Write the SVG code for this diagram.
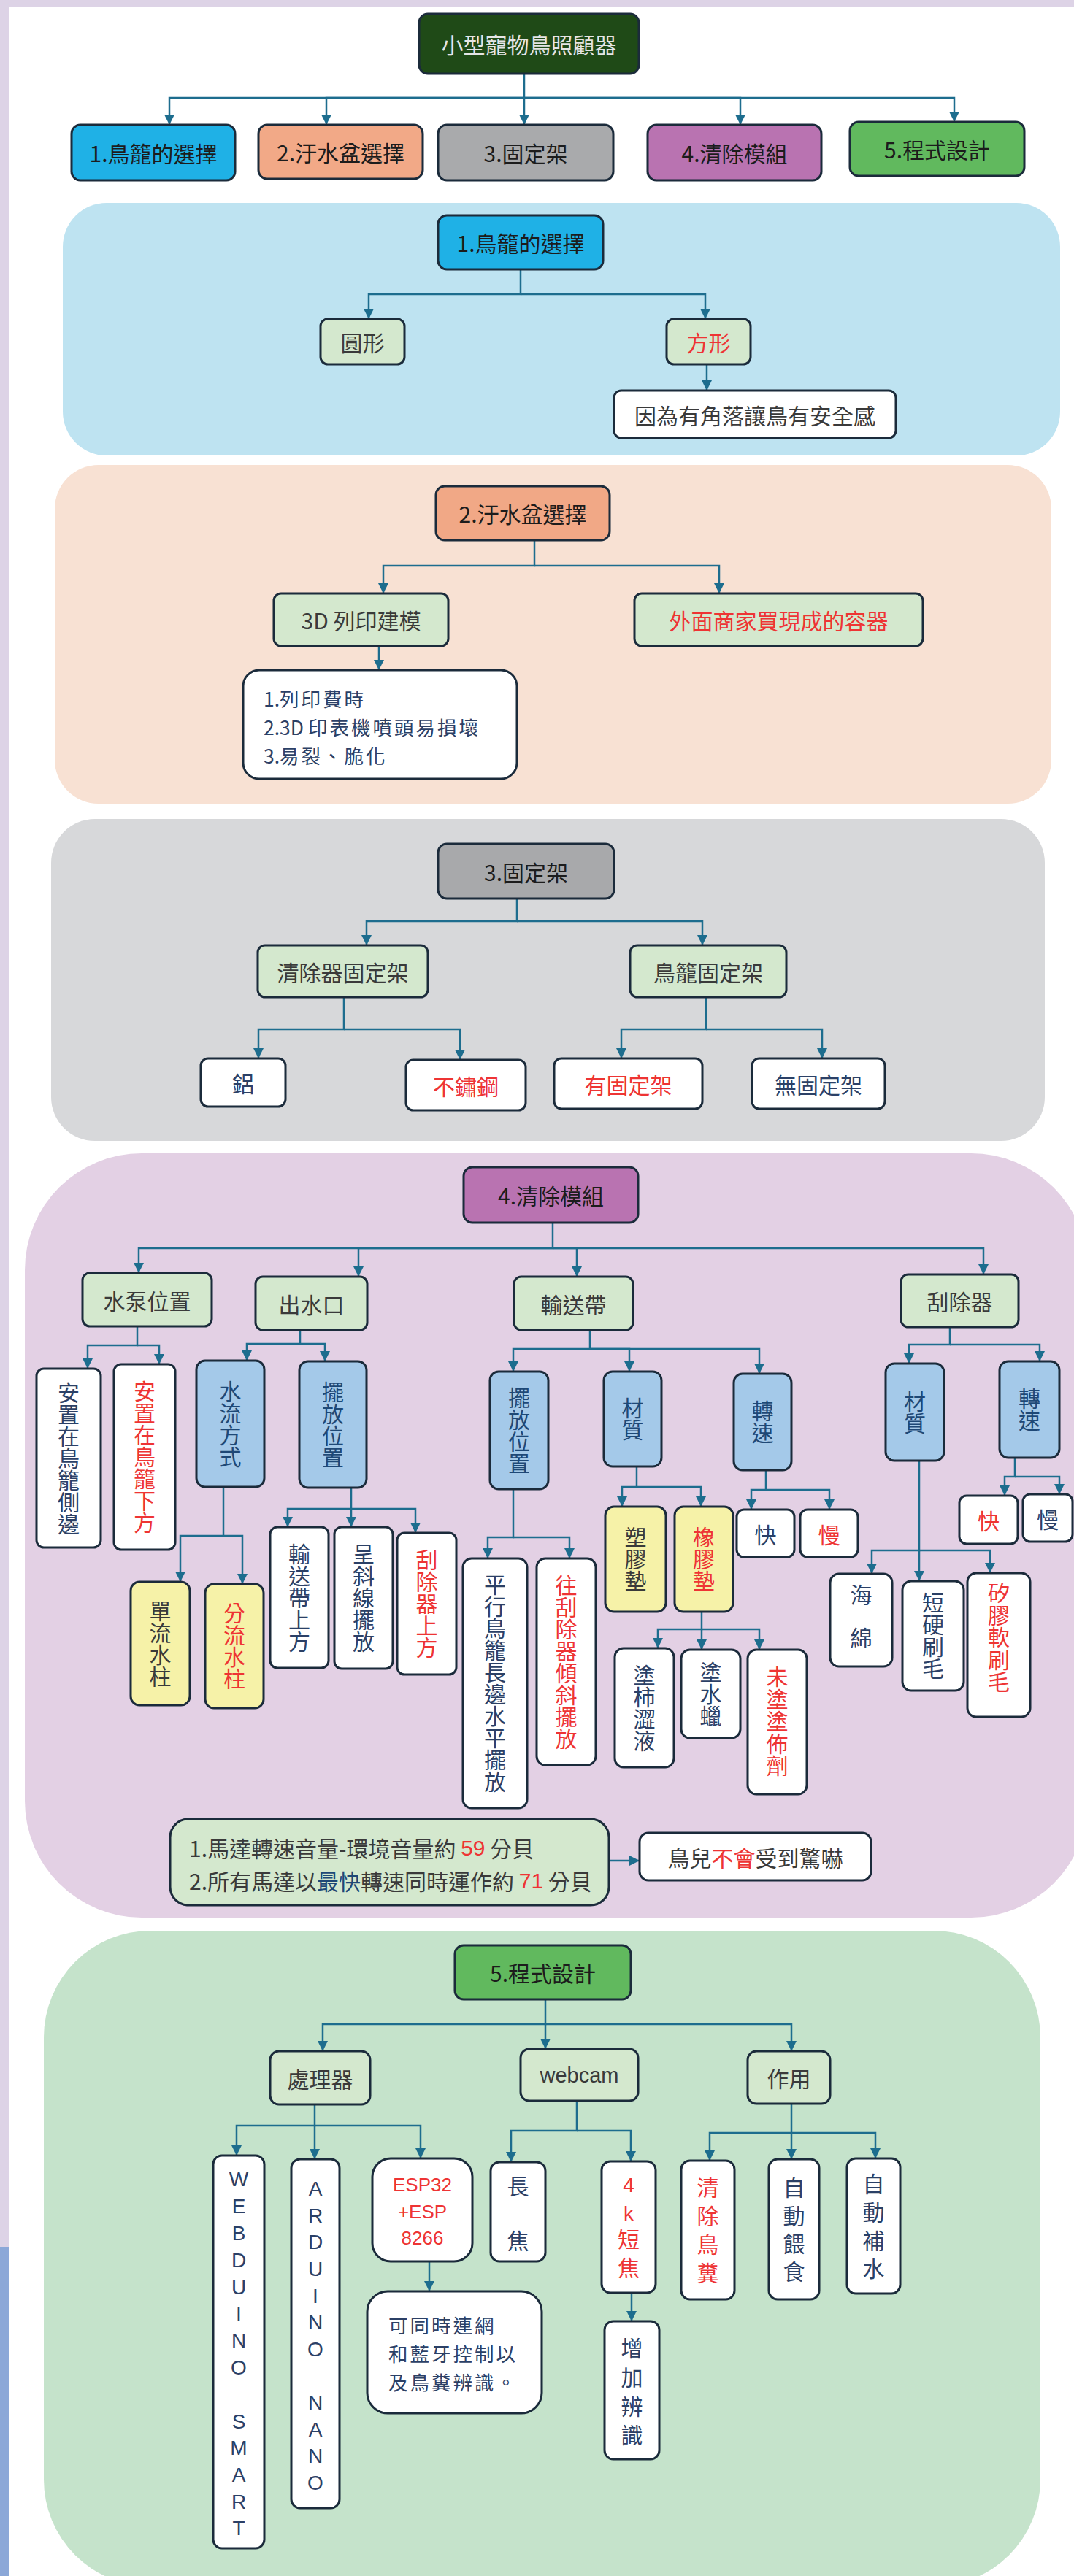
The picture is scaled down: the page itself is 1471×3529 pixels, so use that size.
<svg xmlns="http://www.w3.org/2000/svg" width="1471" height="3529" viewBox="0 0 1471 3529">
<style>
.n{stroke:#1B2B3B;stroke-width:3}
.g{fill:#D4E8CE}.w{fill:#FFFFFF}.b{fill:#A4C9E9}.y{fill:#F6F2A8}
text{font-family:"Noto Sans CJK TC","Noto Sans CJK SC",sans-serif;font-size:30px;dominant-baseline:central}
.c{text-anchor:middle}
.v{writing-mode:vertical-rl;text-anchor:start}
.k{fill:#3A3A3A}.h{fill:#1C1C1C}.r{fill:#EE3434}.d{fill:#2B4066}.bl{fill:#1E4876}
.lat{font-family:"Liberation Sans",Arial,sans-serif}
.ml{font-size:26.5px;letter-spacing:3px}
.ns{letter-spacing:0}
.e{stroke:#1D6D8E;stroke-width:2.5;fill:none;marker-end:url(#ah)}
</style>
<defs>
<marker id="ah" markerUnits="userSpaceOnUse" markerWidth="14" markerHeight="14" viewBox="0 0 14 14" refX="14" refY="7" orient="auto"><path d="M0,0L14,7L0,14z" fill="#1D6D8E"/></marker>
</defs>
<g id="background">
<rect x="0" y="0" width="1471" height="3529" fill="#FFFFFF"/>
<rect x="0" y="0" width="1471" height="10" fill="#DDD3E6"/>
<rect x="0" y="0" width="13" height="3078" fill="#DDD3E6"/>
<rect x="0" y="3078" width="13" height="451" fill="#8CA8D8"/>
<rect x="86" y="278" width="1366" height="346" rx="60" fill="#BEE3F1"/>
<rect x="75" y="637" width="1365" height="464" rx="60" fill="#F8E1D3"/>
<rect x="70" y="1122" width="1361" height="441" rx="60" fill="#D7D8DA"/>
<rect x="34" y="1580" width="1456" height="1047" rx="160" fill="#E3D0E4"/>
<rect x="60" y="2645" width="1365" height="898" rx="146" fill="#C5E3CB"/>
</g>
<g id="connectors">
<path class="e" d="M718,101V134H232V171"/><path class="e" d="M718,134H447V171"/><path class="e" d="M718,134V171"/><path class="e" d="M718,134H1014V171"/><path class="e" d="M718,134H1307V167"/>
<path class="e" d="M713,369V403H505V437"/><path class="e" d="M713,403H966V437"/><path class="e" d="M968,499V535"/>
<path class="e" d="M732,740V775H525V813"/><path class="e" d="M732,775H985V813"/><path class="e" d="M519,885V918"/>
<path class="e" d="M708,1231V1262H502V1295"/><path class="e" d="M708,1262H962V1295"/>
<path class="e" d="M471,1366V1410H354V1450"/><path class="e" d="M471,1410H630V1452"/>
<path class="e" d="M967,1366V1410H851V1450"/><path class="e" d="M967,1410H1126V1450"/>
<path class="e" d="M757,1675V1710H190V1744"/><path class="e" d="M757,1710H491V1749"/><path class="e" d="M757,1710H790V1749"/><path class="e" d="M757,1710H1347V1746"/>
<path class="e" d="M188,1817V1843H120V1875"/><path class="e" d="M188,1843H218V1869"/>
<path class="e" d="M411,1822V1841H338V1864"/><path class="e" d="M411,1841H445V1865"/>
<path class="e" d="M306,2037V2104H247V2167"/><path class="e" d="M306,2104H332V2170"/>
<path class="e" d="M481,2038V2067H394V2092"/><path class="e" d="M481,2067V2092"/><path class="e" d="M481,2067H569V2100"/>
<path class="e" d="M808,1822V1848H703V1879"/><path class="e" d="M808,1848H862V1879"/><path class="e" d="M808,1848H1040V1882"/>
<path class="e" d="M703,2040V2106H668V2135"/><path class="e" d="M703,2106H780V2135"/>
<path class="e" d="M872,2009V2037H852V2064"/><path class="e" d="M872,2037H960V2064"/>
<path class="e" d="M1049,2014V2041H1029V2068"/><path class="e" d="M1049,2041H1136V2068"/>
<path class="e" d="M961,2208V2232H901V2258"/><path class="e" d="M961,2232V2260"/><path class="e" d="M961,2232H1040V2260"/>
<path class="e" d="M1301,1818V1842H1245V1868"/><path class="e" d="M1301,1842H1424V1865"/>
<path class="e" d="M1390,1997V2023H1376V2049"/><path class="e" d="M1390,2023H1451V2047"/>
<path class="e" d="M1259,2001V2124H1194V2156"/><path class="e" d="M1259,2124V2166"/><path class="e" d="M1259,2124H1356V2155"/>
<path class="e" d="M834,2549H876"/>
<path class="e" d="M747,2739V2773H442V2810"/><path class="e" d="M747,2773V2807"/><path class="e" d="M747,2773H1084V2810"/>
<path class="e" d="M431,2883V2912H324V2953"/><path class="e" d="M431,2912V2958"/><path class="e" d="M431,2912H576V2957"/>
<path class="e" d="M588,3098V3139"/>
<path class="e" d="M790,2878V2919H700V2962"/><path class="e" d="M790,2919H864V2961"/>
<path class="e" d="M865,3141V3180"/>
<path class="e" d="M1084,2882V2922H972V2960"/><path class="e" d="M1084,2922V2958"/><path class="e" d="M1084,2922H1199V2957"/>
</g>
<g id="root"><rect class="n" x="574" y="19" width="301" height="82" rx="12" fill="#1F4A17"/><text class="c" x="724.5" y="60" fill="#E5E5E5">小型寵物鳥照顧器</text></g>
<g id="top1"><rect class="n" x="98" y="171" width="224" height="76" rx="12" fill="#1FB1E6"/><text class="c h" x="210" y="209">1.鳥籠的選擇</text></g>
<g id="top2"><rect class="n" x="354" y="171" width="225" height="74" rx="12" fill="#F2A987"/><text class="c h" x="466.5" y="208">2.汙水盆選擇</text></g>
<g id="top3"><rect class="n" x="600" y="171" width="240" height="76" rx="12" fill="#A9AAAC"/><text class="c h" x="720" y="209">3.固定架</text></g>
<g id="top4"><rect class="n" x="887" y="171" width="238" height="76" rx="12" fill="#B973B1"/><text class="c h" x="1006" y="209">4.清除模組</text></g>
<g id="top5"><rect class="n" x="1164" y="167" width="239" height="74" rx="12" fill="#61B95E"/><text class="c h" x="1283.5" y="204">5.程式設計</text></g>

<g id="s1root"><rect class="n" x="600" y="295" width="226" height="74" rx="12" fill="#1FB1E6"/><text class="c h" x="713" y="332">1.鳥籠的選擇</text></g>
<g id="s1round"><rect class="n g" x="439" y="437" width="115" height="62" rx="10"/><text class="c k" x="496.5" y="468">圓形</text></g>
<g id="s1square"><rect class="n g" x="913" y="437" width="115" height="62" rx="10"/><text class="c r" x="970.5" y="468">方形</text></g>
<g id="s1reason"><rect class="n w" x="841" y="535" width="386" height="65" rx="10"/><text class="c k" x="1034" y="567.5">因為有角落讓鳥有安全感</text></g>

<g id="s2root"><rect class="n" x="597" y="666" width="238" height="74" rx="12" fill="#F1A886"/><text class="c h" x="716" y="703">2.汙水盆選擇</text></g>
<g id="s2print"><rect class="n g" x="375" y="813" width="239" height="72" rx="10"/><text class="c k" x="494.5" y="849">3D 列印建模</text></g>
<g id="s2buy"><rect class="n g" x="869" y="813" width="395" height="72" rx="10"/><text class="c r" x="1066.5" y="849">外面商家買現成的容器</text></g>
<g id="s2list"><rect class="n w" x="333" y="918" width="375" height="149" rx="22"/><text class="d ml"><tspan x="361" y="956"><tspan class="ns">1.</tspan>列印費時</tspan><tspan x="361" y="995"><tspan class="ns">2.3D </tspan>印表機噴頭易損壞</tspan><tspan x="361" y="1034"><tspan class="ns">3.</tspan>易裂、脆化</tspan></text></g>

<g id="s3root"><rect class="n" x="600" y="1156" width="241" height="75" rx="12" fill="#A8A9AB"/><text class="c h" x="720.5" y="1193.5">3.固定架</text></g>
<g id="s3cleaner"><rect class="n g" x="353" y="1295" width="233" height="71" rx="10"/><text class="c k" x="469.5" y="1330.5">清除器固定架</text></g>
<g id="s3cage"><rect class="n g" x="863" y="1295" width="214" height="71" rx="10"/><text class="c k" x="970" y="1330.5">鳥籠固定架</text></g>
<g id="s3al"><rect class="n w" x="275" y="1450" width="116" height="66" rx="10"/><text class="c d" x="333" y="1483">鋁</text></g>
<g id="s3steel"><rect class="n w" x="556" y="1452" width="164" height="69" rx="10"/><text class="c r" x="638" y="1486.5">不鏽鋼</text></g>
<g id="s3with"><rect class="n w" x="759" y="1450" width="203" height="69" rx="10"/><text class="c r" x="860.5" y="1484.5">有固定架</text></g>
<g id="s3without"><rect class="n w" x="1030" y="1450" width="182" height="69" rx="10"/><text class="c d" x="1121" y="1484.5">無固定架</text></g>

<g id="s4root"><rect class="n" x="635" y="1599" width="239" height="76" rx="12" fill="#B973B1"/><text class="c h" x="754.5" y="1637">4.清除模組</text></g>
<g id="s4pump"><rect class="n g" x="113" y="1744" width="177" height="73" rx="10"/><text class="c k" x="201.5" y="1780.5">水泵位置</text></g>
<g id="s4outlet"><rect class="n g" x="350" y="1749" width="153" height="73" rx="10"/><text class="c k" x="426.5" y="1785.5">出水口</text></g>
<g id="s4belt"><rect class="n g" x="704" y="1749" width="163" height="73" rx="10"/><text class="c k" x="785.5" y="1785.5">輸送帶</text></g>
<g id="s4scraper"><rect class="n g" x="1234" y="1746" width="161" height="72" rx="10"/><text class="c k" x="1314.5" y="1782">刮除器</text></g>

<g id="s4pumpside"><rect class="n w" x="50" y="1875" width="88" height="245" rx="10"/><text class="v d" x="94" y="1892.5">安置在鳥籠側邊</text></g>
<g id="s4pumpunder"><rect class="n w" x="156" y="1869" width="84" height="254" rx="10"/><text class="v r" x="198" y="1891">安置在鳥籠下方</text></g>
<g id="s4flow"><rect class="n b" x="269" y="1864" width="93" height="173" rx="12"/><text class="v bl" x="315.5" y="1890.5">水流方式</text></g>
<g id="s4place1"><rect class="n b" x="410" y="1865" width="92" height="173" rx="12"/><text class="v bl" x="456" y="1891.5">擺放位置</text></g>
<g id="s4single"><rect class="n y" x="179" y="2167" width="81" height="169" rx="12"/><text class="v k" x="219.5" y="2191.5">單流水柱</text></g>
<g id="s4split"><rect class="n y" x="281" y="2170" width="80" height="170" rx="12"/><text class="v r" x="321" y="2195">分流水柱</text></g>
<g id="s4onbelt"><rect class="n w" x="370" y="2092" width="80" height="193" rx="10"/><text class="v d" x="410" y="2113.5">輸送帶上方</text></g>
<g id="s4diag"><rect class="n w" x="458" y="2092" width="80" height="194" rx="10"/><text class="v d" x="498" y="2114">呈斜線擺放</text></g>
<g id="s4onscraper"><rect class="n w" x="544" y="2100" width="81" height="194" rx="10"/><text class="v r" x="584.5" y="2122">刮除器上方</text></g>
<g id="s4place2"><rect class="n b" x="671" y="1879" width="80" height="161" rx="12"/><text class="v bl" x="711" y="1899.5">擺放位置</text></g>
<g id="s4mat1"><rect class="n b" x="827" y="1879" width="79" height="130" rx="12"/><text class="v bl" x="866.5" y="1914">材質</text></g>
<g id="s4speed1"><rect class="n b" x="1005" y="1882" width="79" height="132" rx="12"/><text class="v bl" x="1044.5" y="1918">轉速</text></g>
<g id="s4parallel"><rect class="n w" x="634" y="2135" width="88" height="342" rx="12"/><text class="v d" x="678" y="2156">平行鳥籠長邊水平擺放</text></g>
<g id="s4tilt"><rect class="n w" x="735" y="2135" width="81" height="283" rx="12"/><text class="v r" x="775.5" y="2156.5">往刮除器傾斜擺放</text></g>
<g id="s4plastic"><rect class="n y" x="829" y="2064" width="83" height="144" rx="12"/><text class="v k" x="870.5" y="2091">塑膠墊</text></g>
<g id="s4rubber"><rect class="n y" x="924" y="2064" width="80" height="144" rx="12"/><text class="v r" x="964" y="2091">橡膠墊</text></g>
<g id="s4fast1"><rect class="n w" x="1009" y="2068" width="79" height="65" rx="10"/><text class="c d" x="1048.5" y="2100.5">快</text></g>
<g id="s4slow1"><rect class="n w" x="1096" y="2068" width="79" height="65" rx="10"/><text class="c r" x="1135.5" y="2100.5">慢</text></g>
<g id="s4persimmon"><rect class="n w" x="842" y="2258" width="81" height="163" rx="12"/><text class="v d" x="882.5" y="2279.5">塗柿澀液</text></g>
<g id="s4wax"><rect class="n w" x="933" y="2260" width="81" height="121" rx="12"/><text class="v d" x="973.5" y="2275.5">塗水蠟</text></g>
<g id="s4uncoated"><rect class="n w" x="1024" y="2260" width="81" height="198" rx="12"/><text class="v r" x="1064.5" y="2282" style="letter-spacing:0.5px">未塗塗佈劑</text></g>
<g id="s4mat2"><rect class="n b" x="1213" y="1868" width="80" height="133" rx="12"/><text class="v bl" x="1253" y="1904.5">材質</text></g>
<g id="s4speed2"><rect class="n b" x="1369" y="1865" width="82" height="132" rx="12"/><text class="v bl" x="1410" y="1901">轉速</text></g>
<g id="s4fast2"><rect class="n w" x="1314" y="2049" width="80" height="66" rx="10"/><text class="c r" x="1354" y="2082">快</text></g>
<g id="s4slow2"><rect class="n w" x="1401" y="2047" width="68" height="65" rx="10"/><text class="c d" x="1435" y="2079.5">慢</text></g>
<g id="s4sponge"><rect class="n w" x="1137" y="2156" width="85" height="127" rx="12"/><text class="v d" x="1179.5" y="2170" style="letter-spacing:29px">海綿</text></g>
<g id="s4hard"><rect class="n w" x="1236" y="2166" width="84" height="150" rx="12"/><text class="v d" x="1278" y="2181">短硬刷毛</text></g>
<g id="s4silicone"><rect class="n w" x="1325" y="2155" width="86" height="197" rx="12"/><text class="v r" x="1368" y="2167" style="letter-spacing:0.5px">矽膠軟刷毛</text></g>
<g id="s4note"><rect class="n g" x="233" y="2492" width="601" height="118" rx="25"/><text class="k" x="259" y="2531">1.馬達轉速音量-環境音量約 <tspan class="r lat">59</tspan> 分貝</text><text class="k" x="259" y="2576">2.所有馬達以<tspan class="bl">最快</tspan>轉速同時運作約 <tspan class="r lat">71</tspan> 分貝</text></g>
<g id="s4result"><rect class="n w" x="876" y="2511" width="317" height="65" rx="12"/><text class="c k" x="1034.5" y="2543.5">鳥兒<tspan class="r">不會</tspan>受到驚嚇</text></g>

<g id="s5root"><rect class="n" x="623" y="2665" width="241" height="74" rx="12" fill="#61B95E"/><text class="c h" x="743.5" y="2702">5.程式設計</text></g>
<g id="s5cpu"><rect class="n g" x="370" y="2810" width="137" height="73" rx="12"/><text class="c k" x="438.5" y="2846.5">處理器</text></g>
<g id="s5cam"><rect class="n g" x="713" y="2807" width="161" height="71" rx="12"/><text class="c k lat" x="793.5" y="2842.5" style="font-size:29px">webcam</text></g>
<g id="s5use"><rect class="n g" x="1024" y="2810" width="113" height="72" rx="12"/><text class="c k" x="1080.5" y="2846">作用</text></g>
<g id="s5webduino"><rect class="n w" x="292" y="2953" width="70" height="538" rx="12"/><text class="c d lat" style="font-size:28px"><tspan x="327" y="2985">W</tspan><tspan x="327" y="3022">E</tspan><tspan x="327" y="3059">B</tspan><tspan x="327" y="3096">D</tspan><tspan x="327" y="3133">U</tspan><tspan x="327" y="3169">I</tspan><tspan x="327" y="3206">N</tspan><tspan x="327" y="3243">O</tspan><tspan x="327" y="3317">S</tspan><tspan x="327" y="3353">M</tspan><tspan x="327" y="3390">A</tspan><tspan x="327" y="3427">R</tspan><tspan x="327" y="3463">T</tspan></text></g>
<g id="s5arduino"><rect class="n w" x="399" y="2958" width="66" height="478" rx="12"/><text class="c d lat" style="font-size:28px"><tspan x="432" y="2998">A</tspan><tspan x="432" y="3035">R</tspan><tspan x="432" y="3071">D</tspan><tspan x="432" y="3108">U</tspan><tspan x="432" y="3145">I</tspan><tspan x="432" y="3181">N</tspan><tspan x="432" y="3218">O</tspan><tspan x="432" y="3291">N</tspan><tspan x="432" y="3328">A</tspan><tspan x="432" y="3364">N</tspan><tspan x="432" y="3401">O</tspan></text></g>
<g id="s5esp"><rect class="n w" x="510" y="2957" width="137" height="141" rx="25"/><text class="c r lat" style="font-size:26px"><tspan x="578.5" y="2993">ESP32</tspan><tspan x="578.5" y="3030">+ESP</tspan><tspan x="578.5" y="3066">8266</tspan></text></g>
<g id="s5espnote"><rect class="n w" x="503" y="3139" width="239" height="167" rx="28"/><text class="d ml"><tspan x="532" y="3184">可同時連網</tspan><tspan x="532" y="3223">和藍牙控制以</tspan><tspan x="532" y="3262">及鳥糞辨識。</tspan></text></g>
<g id="s5tele"><rect class="n w" x="672" y="2962" width="75" height="136" rx="12"/><text class="v d" x="709.5" y="2980" style="letter-spacing:45px">長焦</text></g>
<g id="s5wide"><rect class="n w" x="824" y="2961" width="74" height="180" rx="12"/><text class="c r lat" style="font-size:28px"><tspan x="861" y="2993">4</tspan><tspan x="861" y="3032">k</tspan></text><text class="v r" x="861" y="3053" style="letter-spacing:9px">短焦</text></g>
<g id="s5recog"><rect class="n w" x="828" y="3180" width="75" height="189" rx="12"/><text class="v d" x="865.5" y="3202" style="letter-spacing:9.7px">增加辨識</text></g>
<g id="s5clean"><rect class="n w" x="933" y="2960" width="73" height="190" rx="12"/><text class="v r" x="969.5" y="2982" style="letter-spacing:9px">清除鳥糞</text></g>
<g id="s5feed"><rect class="n w" x="1053" y="2958" width="69" height="192" rx="12"/><text class="v d" x="1087.5" y="2982" style="letter-spacing:8.3px">自動餵食</text></g>
<g id="s5water"><rect class="n w" x="1160" y="2957" width="73" height="185" rx="12"/><text class="v d" x="1196.5" y="2977" style="letter-spacing:8.7px">自動補水</text></g>
</svg>
